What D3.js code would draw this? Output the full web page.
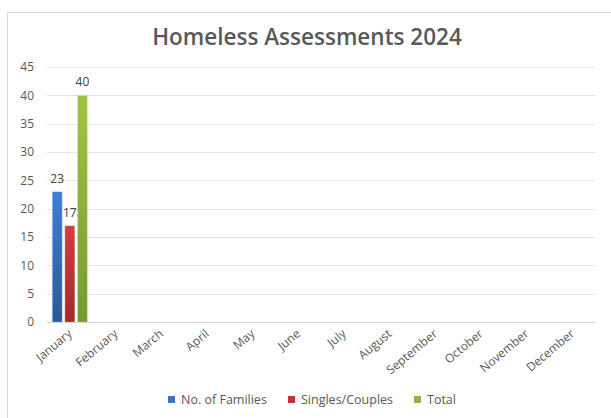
<!DOCTYPE html>
<html><head><meta charset="utf-8">
<script src="https://cdn.jsdelivr.net/npm/d3@7"></script>
<style>body{margin:0;background:#fff;}svg{display:block;font-family:"Open Sans",sans-serif;}</style>
</head><body>
<svg id="c" width="611" height="418"></svg>
<script>
const months = ["January","February","March","April","May","June","July","August","September","October","November","December"];
const families = [23,null,null,null,null,null,null,null,null,null,null,null];
const singles = [17,null,null,null,null,null,null,null,null,null,null,null];
const totals = [40,null,null,null,null,null,null,null,null,null,null,null];
const seriesNames = ["No. of Families","Singles/Couples","Total"];
const yTicks = [0,5,10,15,20,25,30,35,40,45];

const svg = d3.select("#c");
const colors = [["#3d7fd6","#2b5a97"],["#d63e3e","#a22a2a"],["#a0c545","#769a32"]];
const legendColors = ["#3a76c8","#c43333","#8fb33c"];
const defs = svg.append("defs");
colors.forEach((c,i)=>{
  const g = defs.append("linearGradient").attr("id","g"+i).attr("x1",0).attr("x2",0).attr("y1",0).attr("y2",1);
  g.append("stop").attr("offset","0%").attr("stop-color",c[0]);
  g.append("stop").attr("offset","100%").attr("stop-color",c[1]);
});

// chart border
svg.append("rect").attr("x",7.5).attr("y",12.5).attr("width",640).attr("height",440)
  .attr("fill","none").attr("stroke","#d9d9d9");

svg.append("text").attr("x",307).attr("y",45).attr("text-anchor","middle")
  .attr("font-size",22.5).attr("font-weight",600).attr("fill","#595959")
  .text("Homeless Assessments 2024");

const x = d3.scaleBand().domain(months).range([47,595]);
const y = d3.scaleLinear().domain([0,45]).range([322,67]);

// gridlines
svg.append("g").selectAll("line").data(yTicks).join("line")
  .attr("x1",47).attr("x2",595).attr("y1",d=>Math.round(y(d))+0.5).attr("y2",d=>Math.round(y(d))+0.5)
  .attr("stroke",d=>d===0?"#d0d0d0":"#e3e3e3").attr("stroke-width",1);

// y axis labels
const yAxis = d3.axisLeft(y).tickValues(yTicks).tickSize(0).tickPadding(0);
const ya = svg.append("g").attr("transform","translate(34,0)").call(yAxis);
ya.select(".domain").remove();
ya.selectAll("text").attr("font-size",12).attr("fill","#595959").attr("font-family","Open Sans, sans-serif");

// x axis labels
const xAxis = d3.axisBottom(x).tickSize(0).tickPadding(0);
const xa = svg.append("g").attr("transform","translate(0,322)").call(xAxis);
xa.select(".domain").remove();
xa.selectAll("text").attr("font-size",12).attr("fill","#595959").attr("font-family","Open Sans, sans-serif")
  .attr("text-anchor","end").attr("dy",0)
  .attr("transform","translate(3,13) rotate(-40)");

// bars
const data = [families,singles,totals];
const bw = 10, step = 12.6;
data.forEach((vals,si)=>{
  const gs = svg.append("g");
  const pts = months.map((m,i)=>({m,v:vals[i]})).filter(d=>d.v!=null);
  gs.selectAll("rect").data(pts).join("rect")
    .attr("x",d=>x(d.m)+x.bandwidth()/2 + (si-1)*step - bw/2)
    .attr("y",d=>y(d.v)).attr("width",bw).attr("height",d=>y(0)-y(d.v))
    .attr("fill","url(#g"+si+")").attr("stroke","#ffffff").attr("stroke-opacity",0.35).attr("stroke-width",0.8);
  gs.selectAll("text").data(pts).join("text")
    .attr("x",d=>x(d.m)+x.bandwidth()/2 + (si-1)*step)
    .attr("y",d=>y(d.v)-9).attr("text-anchor","middle")
    .attr("font-size",12).attr("fill","#404040").text(d=>d.v);
});

// legend
const legX = [168,288,414];
const lg = svg.append("g");
seriesNames.forEach((n,i)=>{
  lg.append("rect").attr("x",legX[i]).attr("y",396).attr("width",7).attr("height",7).attr("fill",legendColors[i]);
  lg.append("text").attr("x",legX[i]+13).attr("y",404).attr("font-size",12.5).attr("fill","#595959").text(n);
});
</script>
</body></html>
